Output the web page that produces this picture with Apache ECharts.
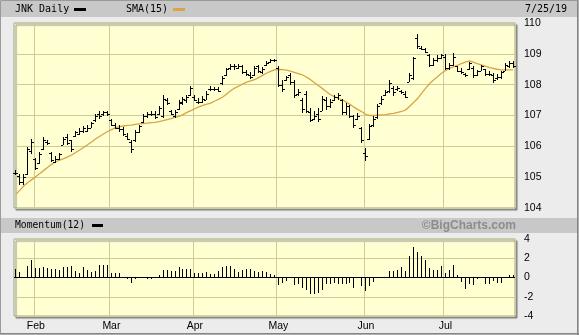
<!DOCTYPE html>
<html><head><meta charset="utf-8">
<script src="https://cdn.jsdelivr.net/npm/echarts@6/dist/echarts.min.js"></script>
<style>html,body{margin:0;padding:0;background:#ececec}#c{width:579px;height:335px}</style>
</head><body><div id="c"></div>
<script>
// ---- data ----
const startDate = '2019-01-25', endDate = '2019-07-25';
const holidays = ['2019-02-18','2019-04-19','2019-05-27','2019-07-04'];
const monthNames = ['Jan','Feb','Mar','Apr','May','Jun','Jul','Aug','Sep','Oct','Nov','Dec'];
const priceTicks = [104,105,106,107,108,109,110];
const momTicks = [-4,-2,0,2,4];

const high = [105.24,105.11,105.11,105.98,106.23,105.63,105.82,106.29,106.2,105.82,
105.68,105.79,106.31,106.4,106.22,106.5,106.58,106.66,106.69,106.8,
107.04,107.13,107.15,107.15,106.89,106.77,106.7,106.62,106.42,106.2,
106.53,106.7,107.05,107.1,107.13,107.13,107.32,107.67,107.57,107.18,
107.18,107.5,107.6,107.67,107.95,107.67,107.57,107.62,107.78,107.95,
107.92,107.92,108.27,108.54,108.68,108.67,108.68,108.65,108.47,108.4,
108.62,108.65,108.58,108.76,108.84,108.84,108.62,108.16,108.29,108.38,
108.16,107.86,107.57,107.78,107.24,107.13,107.24,107.62,107.6,107.53,
107.67,107.73,107.53,107.4,107.35,107.02,107.08,106.64,105.93,106.72,
106.99,107.38,107.64,107.84,108.16,107.95,107.95,107.84,107.78,108.38,
108.9,109.63,109.25,109.2,109.01,108.87,108.95,109.01,108.98,108.71,
109.03,108.62,108.54,108.38,108.73,108.6,108.49,108.65,108.51,108.43,
108.38,108.33,108.43,108.71,108.76,108.76];
const low = [105.06,104.76,104.73,105.06,105.76,105.24,105.44,105.87,106.04,105.49,
105.47,105.55,106.04,106.04,105.82,106.31,106.36,106.44,106.47,106.58,
106.8,106.88,106.99,106.99,106.66,106.55,106.48,106.34,106.2,105.79,
106.15,106.42,106.75,106.91,106.97,106.88,107.02,106.91,107.35,107.02,
106.91,107.18,107.35,107.4,107.62,107.46,107.38,107.4,107.49,107.78,
107.78,107.75,108.0,108.27,108.47,108.49,108.51,108.33,108.27,108.18,
108.27,108.38,108.33,108.6,108.71,108.73,107.92,107.75,108.11,108.0,
107.57,107.62,107.08,107.08,106.8,106.86,106.8,107.13,107.18,107.24,
107.46,107.51,107.02,107.02,106.91,106.59,106.86,106.12,105.53,106.2,
106.64,106.88,107.35,107.62,107.73,107.64,107.78,107.71,107.57,108.08,
108.14,109.16,109.12,109.03,108.58,108.62,108.73,108.82,108.49,108.49,
108.6,108.4,108.33,108.25,108.49,108.22,108.27,108.43,108.27,108.27,
108.05,108.16,108.18,108.43,108.54,108.54];
const open = [105.15,105.05,104.85,105.1,105.85,105.6,105.45,105.9,106.15,105.8,
105.5,105.6,106.05,106.3,106.2,106.35,106.4,106.5,106.5,106.6,
106.85,107.05,107.05,107.1,106.85,106.7,106.6,106.55,106.35,106.15,
106.2,106.45,106.8,107.0,107.05,107.05,107.05,107.0,107.5,107.15,
107.0,107.2,107.4,107.5,107.65,107.6,107.45,107.45,107.5,107.85,
107.85,107.85,108.05,108.3,108.55,108.6,108.55,108.6,108.4,108.3,
108.3,108.6,108.4,108.65,108.75,108.8,108.55,108.0,108.15,108.3,
108.1,107.7,107.5,107.7,107.1,106.9,107.05,107.15,107.5,107.3,
107.5,107.6,107.5,107.1,107.3,107.0,106.9,106.6,105.8,106.25,
106.7,106.95,107.4,107.65,107.8,107.9,107.85,107.8,107.7,108.1,
108.2,109.5,109.2,109.15,108.95,108.65,108.8,108.85,108.9,108.55,
108.65,108.6,108.45,108.35,108.5,108.55,108.3,108.45,108.5,108.35,
108.3,108.2,108.25,108.45,108.6,108.7];
const close = [105.12,104.85,105.0,105.9,106.15,105.3,105.75,106.2,106.1,105.55,
105.6,105.75,106.25,106.1,105.9,106.45,106.5,106.6,106.6,106.75,
107.0,107.0,107.1,107.05,106.7,106.6,106.55,106.4,106.25,105.9,
106.45,106.65,107.0,107.05,107.05,106.95,107.25,107.55,107.4,107.05,
107.1,107.45,107.55,107.6,107.9,107.5,107.45,107.55,107.7,107.85,
107.85,107.8,108.2,108.5,108.6,108.6,108.6,108.4,108.35,108.25,
108.55,108.45,108.5,108.7,108.8,108.8,108.0,107.85,108.25,108.1,
107.65,107.75,107.2,107.15,106.85,107.0,106.9,107.55,107.3,107.45,
107.6,107.65,107.1,107.3,107.0,106.7,107.0,106.2,105.7,106.65,
106.9,107.3,107.55,107.75,108.05,107.75,107.9,107.75,107.6,108.3,
108.85,109.25,109.15,109.05,108.65,108.8,108.85,108.95,108.55,108.65,
108.9,108.45,108.4,108.3,108.7,108.3,108.45,108.6,108.35,108.35,
108.15,108.25,108.4,108.65,108.7,108.6];
const sma15 = [104.45,104.58,104.72,104.83,104.92,105.02,105.12,105.22,105.32,105.42,
105.5,105.55,105.6,105.66,105.72,105.8,105.88,105.96,106.05,106.14,
106.24,106.32,106.4,106.48,106.54,106.6,106.64,106.66,106.68,106.69,
106.71,106.73,106.74,106.75,106.77,106.78,106.8,106.83,106.87,106.9,
106.94,106.97,107.03,107.1,107.16,107.22,107.28,107.33,107.37,107.4,
107.47,107.53,107.6,107.7,107.8,107.89,107.95,108.02,108.08,108.12,
108.16,108.23,108.3,108.37,108.43,108.48,108.5,108.49,108.47,108.44,
108.4,108.36,108.32,108.25,108.17,108.07,107.97,107.88,107.78,107.68,
107.61,107.56,107.51,107.44,107.36,107.27,107.19,107.12,107.03,107.0,
107.0,107.01,107.02,107.03,107.05,107.07,107.1,107.13,107.18,107.3,
107.42,107.55,107.72,107.88,108.03,108.15,108.26,108.37,108.45,108.53,
108.58,108.63,108.68,108.73,108.77,108.73,108.68,108.64,108.6,108.56,
108.53,108.5,108.48,108.48,108.48,108.48];
const momentum12 = [0.88,0.53,0.05,1.16,1.82,0.98,0.98,1.12,0.98,0.91,
0.88,0.77,1.12,1.12,1.16,0.7,0.46,1.12,0.77,0.6,
0.7,1.3,1.3,1.3,0.46,0.46,0.46,-0.1,-0.18,-0.6,
-0.18,-0.07,0.0,-0.18,-0.18,-0.05,0.28,0.77,0.77,0.7,
0.67,1.09,0.88,0.88,0.88,0.46,0.46,0.46,0.56,0.32,
0.35,0.67,1.12,1.16,1.19,0.84,0.6,0.8,0.88,0.88,
0.67,0.53,0.7,0.53,0.32,0.28,-0.77,-0.56,-0.35,0.0,
-0.74,-0.7,-1.05,-1.25,-1.74,-1.67,-1.57,-1.32,-0.7,-0.7,
-0.6,-0.7,-0.63,-0.7,-0.6,-1.1,-0.05,-0.87,-1.39,-0.87,
-0.42,-0.07,0.0,0.0,0.7,0.7,0.8,1.05,0.7,2.2,
3.14,2.6,2.2,1.8,0.98,0.8,0.8,1.15,0.45,0.77,
1.29,0.28,-0.42,-1.22,-0.63,-0.77,-0.17,-0.07,-0.63,-0.63,
-0.35,-0.59,-0.59,-0.07,0.28,0.28];

// ---- trading-day calendar (categories) ----
function pad(n){return (n<10?'0':'')+n;}
const dates = [];
(function(){
  const d = new Date(startDate+'T12:00:00Z'), e = new Date(endDate+'T12:00:00Z');
  while (d <= e) {
    const s = d.getUTCFullYear()+'-'+pad(d.getUTCMonth()+1)+'-'+pad(d.getUTCDate());
    const wd = d.getUTCDay();
    if (wd !== 0 && wd !== 6 && holidays.indexOf(s) < 0) dates.push(s);
    d.setUTCDate(d.getUTCDate()+1);
  }
})();
const monthStart = new Set();
dates.forEach((s,i)=>{ if (i>0 && s.slice(5,7)!==dates[i-1].slice(5,7)) monthStart.add(i); });

// ---- styles ----
const gridColor = '#cccc99';
const plotBg = '#ffffd2';
const smaColor = '#d9a441';
const mono = '"DejaVu Sans Mono", monospace';
const sans = '"Liberation Sans", Arial, sans-serif';

function ohlcItem(params, api){
  const i = api.value(0);
  const pO = api.coord([i, api.value(1)]);
  const pC = api.coord([i, api.value(2)]);
  const pL = api.coord([i, api.value(3)]);
  const pH = api.coord([i, api.value(4)]);
  const x = Math.floor(pH[0]);
  const yH = Math.round(pH[1]), yL = Math.round(pL[1]);
  const st = {fill:'#000'};
  return {type:'group', children:[
    {type:'rect', shape:{x:x, y:yH, width:1, height:Math.max(1, yL-yH)}, style:st},
    {type:'rect', shape:{x:x-2, y:Math.round(pO[1]), width:2, height:1}, style:st},
    {type:'rect', shape:{x:x+1, y:Math.round(pC[1]), width:2, height:1}, style:st}
  ]};
}
function momItem(params, api){
  const i = api.value(0), v = api.value(1);
  const p0 = api.coord([i, 0]), p1 = api.coord([i, v]);
  const x = Math.floor(p0[0]);
  const y0 = Math.round(p0[1]), y1 = Math.round(p1[1]);
  return {type:'rect', shape:{x:x, y:Math.min(y0,y1), width:1, height:Math.max(0, Math.abs(y1-y0))}, style:{fill:'#000'}};
}

const xBase = {
  type:'category', data:dates, boundaryGap:true,
  axisLine:{show:false}, axisTick:{show:false},
  splitLine:{show:true, interval:(i)=>monthStart.has(i), lineStyle:{color:gridColor, width:1}}
};
const yLabel = {margin:9, color:'#000', fontFamily:sans, fontSize:10.5};

const chart = echarts.init(document.getElementById('c'), null, {renderer:'canvas'});
chart.setOption({
  animation:false,
  backgroundColor:'#ececec',
  grid:[
    {left:14, right:64, top:23, height:185, show:true, backgroundColor:plotBg, borderColor:'#a0a090', borderWidth:1,
     shadowColor:'#8a8a8a', shadowBlur:1, shadowOffsetX:2, shadowOffsetY:2},
    {left:14, right:64, top:239, height:77, show:true, backgroundColor:plotBg, borderColor:'#a0a090', borderWidth:1,
     shadowColor:'#8a8a8a', shadowBlur:1, shadowOffsetX:2, shadowOffsetY:2}
  ],
  xAxis:[
    Object.assign({}, xBase, {gridIndex:0, axisLabel:{show:false}}),
    Object.assign({}, xBase, {gridIndex:1, axisLabel:{show:true, interval:(i)=>monthStart.has(i),
      formatter:(v)=>monthNames[parseInt(v.slice(5,7),10)-1], margin:5, color:'#000', fontFamily:sans, fontSize:10.5}})
  ],
  yAxis:[
    {type:'value', gridIndex:0, position:'right', min:priceTicks[0], max:priceTicks[priceTicks.length-1], interval:1,
     axisLine:{show:false}, axisTick:{show:false}, axisLabel:yLabel, splitLine:{lineStyle:{color:gridColor}}},
    {type:'value', gridIndex:1, position:'right', min:momTicks[0], max:momTicks[momTicks.length-1], interval:2,
     axisLine:{show:false}, axisTick:{show:false}, axisLabel:yLabel, splitLine:{lineStyle:{color:gridColor}}}
  ],
  series:[
    {type:'line', name:'SMA(15)', xAxisIndex:0, yAxisIndex:0, data:sma15, showSymbol:false, smooth:false,
     lineStyle:{color:smaColor, width:1.3}, z:2},
    {type:'custom', name:'JNK', xAxisIndex:0, yAxisIndex:0, renderItem:ohlcItem,
     data:dates.map((d,i)=>[i, open[i], close[i], low[i], high[i]]), encode:{x:0, y:[1,2,3,4]}, z:3},
    {type:'custom', name:'Momentum(12)', xAxisIndex:1, yAxisIndex:1, renderItem:momItem,
     data:dates.map((d,i)=>[i, momentum12[i]]), encode:{x:0, y:1}, z:3,
     markLine:{silent:true, symbol:['none','none'], label:{show:false}, lineStyle:{color:'#000', type:'solid', width:1},
       data:[{yAxis:0}]}}
  ],
  graphic:[
    {type:'rect', shape:{x:1, y:1, width:577, height:16}, style:{fill:'#c8c8c8'}, z:0},
    {type:'rect', shape:{x:1, y:218, width:577, height:15}, style:{fill:'#c8c8c8'}, z:0},
    {type:'text', style:{x:15, y:9.5, text:'JNK Daily', font:'10px '+mono, fill:'#000', verticalAlign:'middle'}},
    {type:'rect', shape:{x:74, y:8, width:12, height:3}, style:{fill:'#000'}},
    {type:'text', style:{x:126, y:9.5, text:'SMA(15)', font:'10px '+mono, fill:'#000', verticalAlign:'middle'}},
    {type:'rect', shape:{x:173, y:8, width:12, height:3}, style:{fill:smaColor}},
    {type:'text', style:{x:525, y:9.5, text:'7/25/19', font:'10px '+mono, fill:'#000', verticalAlign:'middle'}},
    {type:'text', style:{x:15, y:225.5, text:'Momentum(12)', font:'9.7px '+mono, fill:'#000', verticalAlign:'middle'}},
    {type:'rect', shape:{x:92, y:224, width:11, height:3}, style:{fill:'#000'}},
    {type:'text', style:{x:516, y:225.5, text:'©BigCharts.com', font:'bold 12px '+sans, fill:'#8c8c8c', align:'right', verticalAlign:'middle'}},
    {type:'rect', shape:{x:0.5, y:0.5, width:577, height:333}, style:{fill:null, stroke:'#9a9a9a', lineWidth:1}, z:10},
    {type:'line', shape:{x1:578, y1:0, x2:578, y2:335}, style:{stroke:'#707070', lineWidth:1}, z:10},
    {type:'line', shape:{x1:0, y1:334, x2:579, y2:334}, style:{stroke:'#707070', lineWidth:1}, z:10}
  ]
});
</script>
</body></html>
